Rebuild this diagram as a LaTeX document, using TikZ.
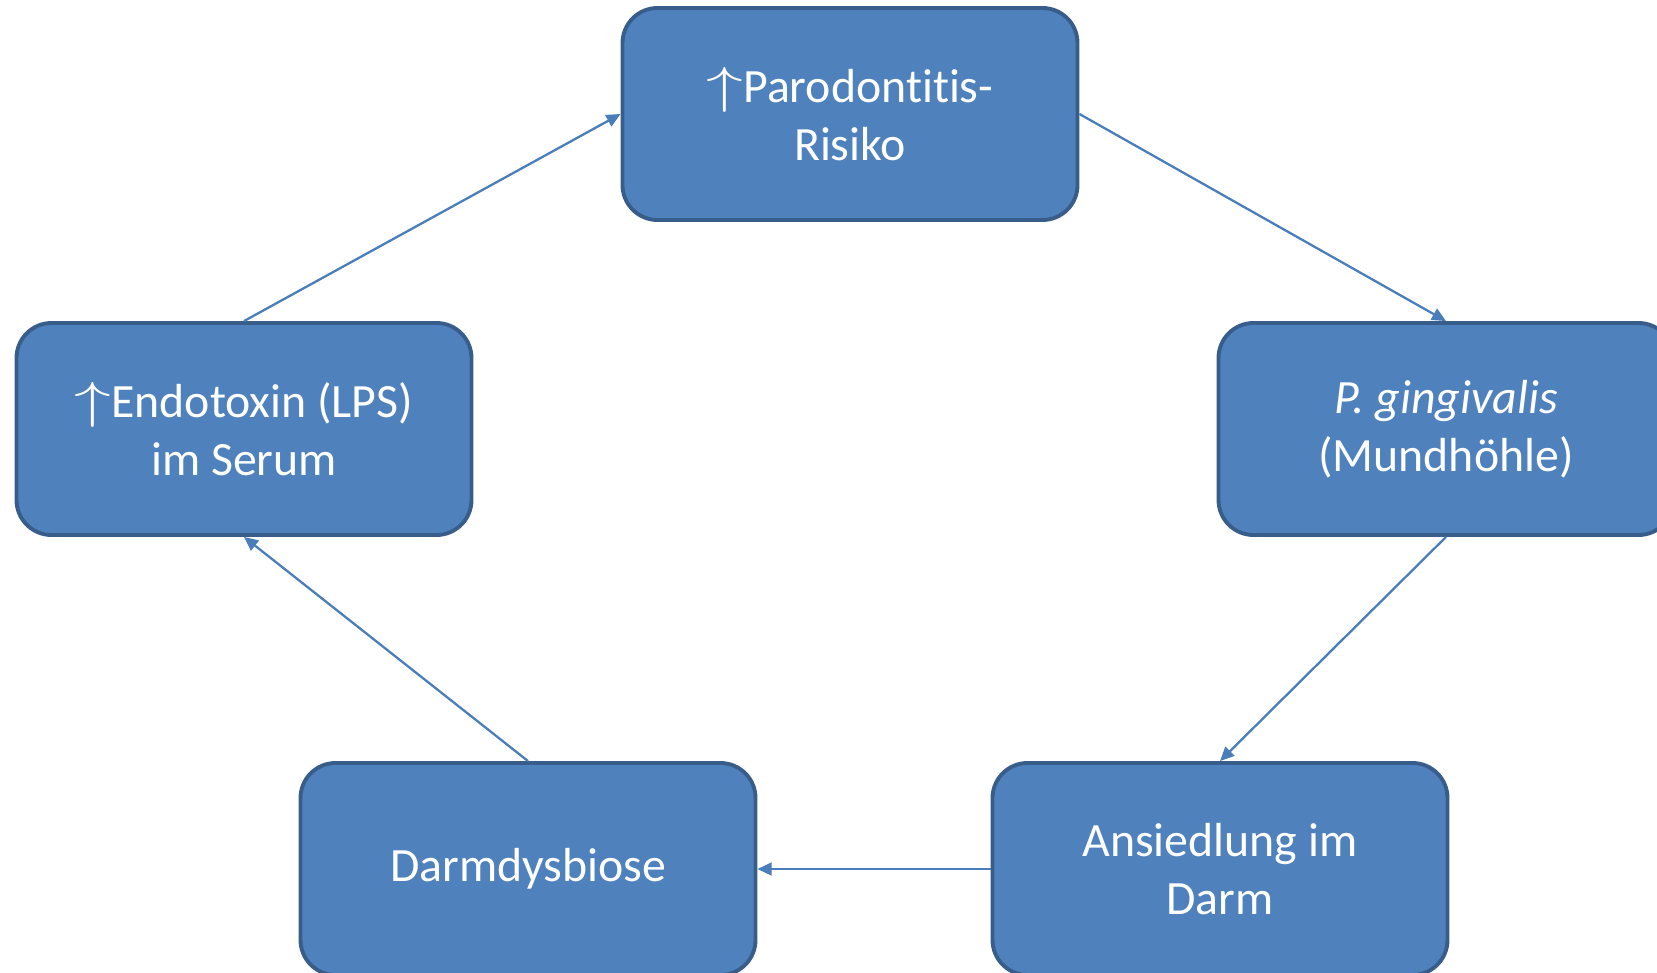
\documentclass[tikz,border=0pt]{standalone}
\usepackage{fontspec}
\setmainfont[Ligatures={NoCommon},Contextuals=NoAlternate]{Carlito}
\usetikzlibrary{arrows.meta}
\definecolor{boxfill}{HTML}{4F81BD}
\definecolor{boxline}{HTML}{385D8A}
\definecolor{arrowcol}{HTML}{4A7EBB}
\tikzset {>={Triangle[length=4pt,width=3.6pt]}}
\tikzset{stage/.style={draw=boxline,fill=boxfill,line width=1.1pt,rounded corners=0.35cm,
  minimum width=4.55cm,minimum height=2.12cm,text=white,align=center,
  font=\fontsize{13.6pt}{16.4pt}\selectfont},
  link/.style={->,draw=arrowcol,line width=0.65pt}}
\newcommand{\up}{\scalebox{1.45}[1]{$\uparrow$}}

\begin{document}
\begin{tikzpicture}
\useasboundingbox (0,0) rectangle (16.57,9.72);
\node[stage] (risk) at (8.50,8.58) {\up Parodontitis-\\Risiko};
\node[stage] (pging) at (14.46,5.43) {\textit{P. gingivalis}\\(Mundhöhle)};
\node[stage] (ansied) at (12.20,1.03) {Ansiedlung im\\Darm};
\node[stage] (dysb) at (5.28,1.03) {Darmdysbiose};
\node[stage] (lps) at (2.44,5.43) {\up Endotoxin (LPS)\\im Serum};
\draw[link] (risk.east) -- (pging.north);
\draw[link] (pging.south) -- (ansied.north);
\draw[link] (ansied.west) -- (dysb.east);
\draw[link] (dysb.north) -- (lps.south);
\draw[link] (lps.north) -- (risk.west);
\end{tikzpicture}
\end{document}
